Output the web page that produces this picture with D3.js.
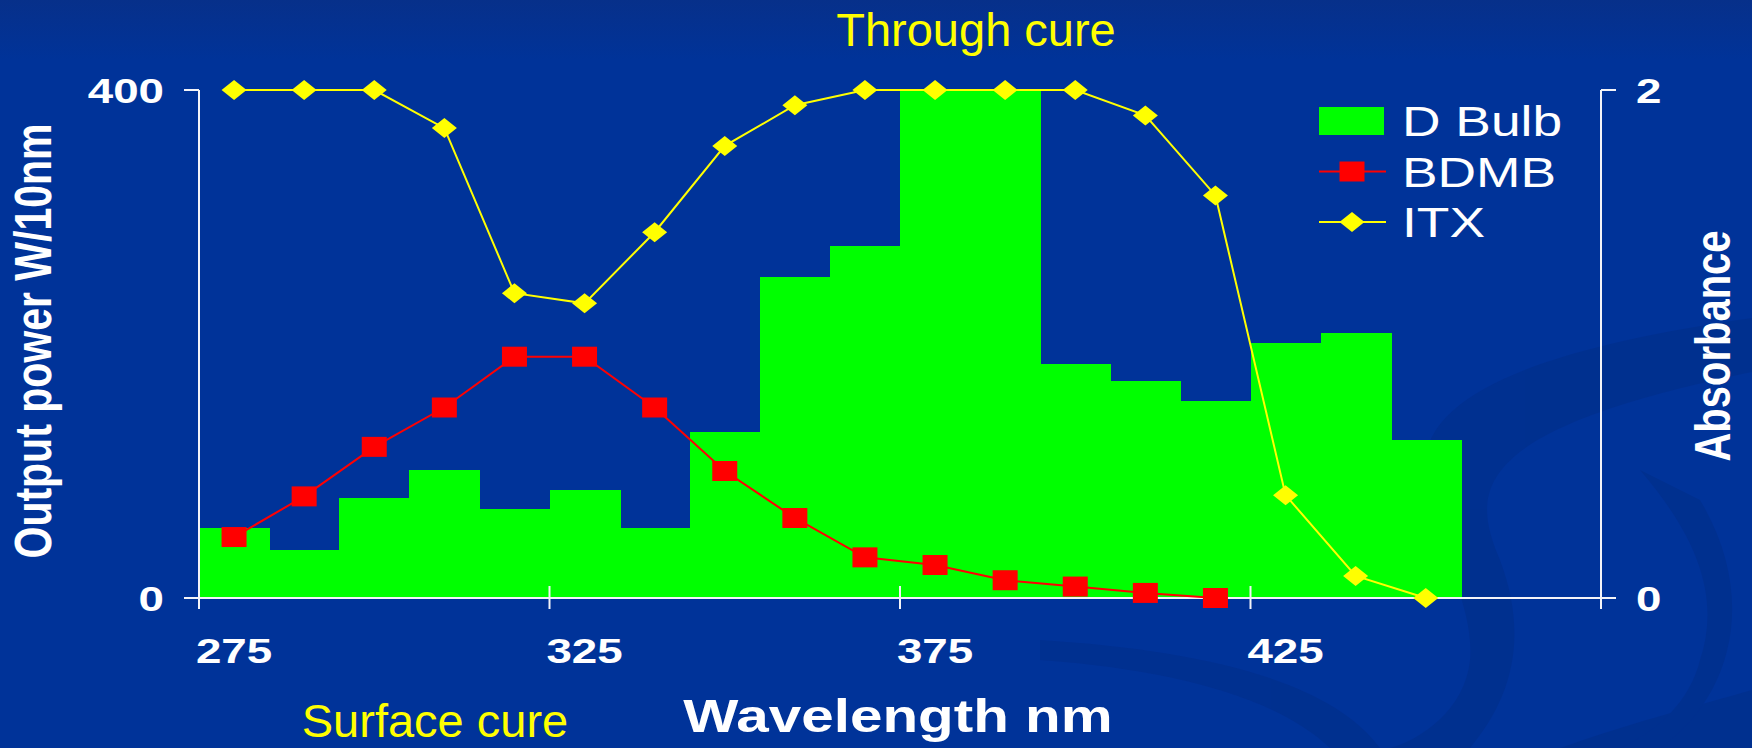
<!DOCTYPE html>
<html>
<head>
<meta charset="utf-8">
<script src="https://cdn.jsdelivr.net/npm/d3@7"></script>
<style>
  html, body { margin: 0; padding: 0; background: #003399; overflow: hidden; }
  svg { display: block; }
</style>
</head>
<body>
<script>
// Chart data.
const wavelengths = [275, 285, 295, 305, 315, 325, 335, 345, 355, 365,
  375, 385, 395, 405, 415, 425, 435, 445, 455, 465];
const dBulb = [55, 38, 78.5, 100.5, 70, 85, 55, 131, 252.5, 277,
  400, 400, 184, 170.5, 155.5, 201, 209, 124.5];
const bdmb = [0.24, 0.4, 0.595, 0.75, 0.95, 0.95, 0.75, 0.5, 0.315, 0.16,
  0.13, 0.07, 0.045, 0.02, 0];
const itx = [2, 2, 2, 1.85, 1.2, 1.16, 1.44, 1.78, 1.94, 2,
  2, 2, 2, 1.9, 1.585, 0.405, 0.087, 0];
const xTickLabels = [275, 325, 375, 425];
const leftTicks = [0, 400];
const rightTicks = [0, 2];
const legendItems = ["D Bulb", "BDMB", "ITX"];

// Global attributes.
const width = 1752;
const height = 748;
const stretch = 1.27; // the chart object on the slide is stretched sideways
const colors = { bg: "#003399", bar: "#00ff00", bdmb: "#ff0000", itx: "#ffff00", axis: "#f4f4f8", note: "#ffff00" };
const bold = "'Liberation Sans', Arial, sans-serif";

const svg = d3.select("body").append("svg").attr("width", width).attr("height", height);

// Background with the slide's swoosh.
const defs = svg.append("defs");
const grad = defs.append("linearGradient").attr("id", "topfade").attr("x1", 0).attr("y1", 0).attr("x2", 0).attr("y2", 1);
grad.append("stop").attr("offset", 0).attr("stop-color", "#07308a");
grad.append("stop").attr("offset", 1).attr("stop-color", colors.bg);
svg.append("rect").attr("width", width).attr("height", height).attr("fill", colors.bg);
svg.append("rect").attr("width", width).attr("height", 60).attr("fill", "url(#topfade)");

const swoosh = svg.append("g").attr("fill", "#002d85").attr("opacity", 0.45);
swoosh.append("path").attr("d", "M1752,318 C1560,345 1420,390 1425,470 C1430,540 1475,600 1470,660 C1465,710 1420,740 1390,748 L1470,748 C1510,700 1530,640 1500,560 C1470,490 1470,430 1752,372 Z");
swoosh.append("path").attr("d", "M1040,640 C1200,650 1330,680 1380,748 L1330,748 C1280,700 1180,670 1040,660 Z");
swoosh.append("path").attr("d", "M1560,748 C1640,720 1700,705 1752,690 L1752,748 Z");
swoosh.append("path").attr("d", "M1640,470 C1700,540 1720,600 1700,660 C1690,700 1660,730 1620,748 L1660,748 C1730,700 1760,600 1700,500 Z");

// Scales.
const x = d3.scaleBand().domain(wavelengths).range([199, 1601]).padding(0);
const yLeft = d3.scaleLinear().domain([0, 400]).range([598, 90]);
const yRight = d3.scaleLinear().domain([0, 2]).range([598, 90]);
const cx = (i) => x(wavelengths[i]) + x.bandwidth() / 2;

// D Bulb bars.
svg.append("g")
  .attr("shape-rendering", "crispEdges")
  .selectAll("rect")
  .data(dBulb)
  .join("rect")
  .attr("x", (d, i) => x(wavelengths[i]))
  .attr("y", (d) => yLeft(Math.min(d, 400)))
  .attr("width", x.bandwidth() + 1)
  .attr("height", (d) => yLeft(0) - yLeft(Math.min(d, 400)))
  .attr("fill", colors.bar);

// Axes.
const gAxis = svg.append("g").attr("stroke", colors.axis).attr("stroke-width", 2);
gAxis.append("line").attr("x1", 199).attr("x2", 199).attr("y1", yLeft(400)).attr("y2", yLeft(0));
gAxis.append("line").attr("x1", 1601).attr("x2", 1601).attr("y1", yRight(2)).attr("y2", yRight(0));
gAxis.append("line").attr("x1", 199).attr("x2", 1601).attr("y1", yLeft(0)).attr("y2", yLeft(0));
gAxis.selectAll(".lt").data(leftTicks).join("line")
  .attr("x1", 184).attr("x2", 199).attr("y1", (d) => yLeft(d)).attr("y2", (d) => yLeft(d));
gAxis.selectAll(".rt").data(rightTicks).join("line")
  .attr("x1", 1601).attr("x2", 1616).attr("y1", (d) => yRight(d)).attr("y2", (d) => yRight(d));
const xTickPos = d3.range(0, wavelengths.length + 1, 5).map((k) =>
  k < wavelengths.length ? x(wavelengths[k]) : x.range()[1]);
gAxis.selectAll(".xt").data(xTickPos).join("line")
  .attr("x1", (d) => d).attr("x2", (d) => d)
  .attr("y1", (d, i) => (i === 0 ? yLeft(0) : yLeft(0) - 12))
  .attr("y2", yLeft(0) + 11);

// Tick labels.
const gLabels = svg.append("g")
  .attr("fill", "#ffffff")
  .attr("font-family", bold)
  .attr("font-weight", "bold")
  .attr("font-size", 36);
gLabels.selectAll(".xl").data(xTickLabels).join("text")
  .attr("text-anchor", "middle")
  .attr("transform", (d) => `translate(${cx(wavelengths.indexOf(d))},663) scale(${stretch},1)`)
  .text((d) => d);
gLabels.selectAll(".yl").data(leftTicks).join("text")
  .attr("text-anchor", "end")
  .attr("transform", (d) => `translate(164,${yLeft(d) + 13}) scale(${stretch},1)`)
  .text((d) => d);
gLabels.selectAll(".yr").data(rightTicks).join("text")
  .attr("text-anchor", "start")
  .attr("transform", (d) => `translate(1636,${yRight(d) + 13}) scale(${stretch},1)`)
  .text((d) => d);

// Axis titles.
svg.append("text")
  .attr("fill", "#ffffff").attr("font-family", bold).attr("font-weight", "bold").attr("font-size", 46)
  .attr("text-anchor", "middle")
  .attr("transform", `translate(898,732) scale(${stretch},1)`)
  .text("Wavelength nm");
svg.append("text")
  .attr("fill", "#ffffff").attr("font-family", bold).attr("font-weight", "bold").attr("font-size", 41)
  .attr("text-anchor", "middle")
  .attr("transform", `translate(51,341) scale(${stretch},1) rotate(-90)`)
  .text("Output power W/10nm");
svg.append("text")
  .attr("fill", "#ffffff").attr("font-family", bold).attr("font-weight", "bold").attr("font-size", 40)
  .attr("text-anchor", "middle")
  .attr("transform", `translate(1730,346) scale(${stretch},1) rotate(-90)`)
  .text("Absorbance");

// Marker shapes, stretched like the rest of the chart.
const square = "M-12.5,-10 H12.5 V10 H-12.5 Z";
const diamond = "M0,-10 L12.5,0 L0,10 L-12.5,0 Z";

// BDMB line.
const line = (yScale) => d3.line().x((d, i) => cx(i)).y((d) => yScale(d));
svg.append("path")
  .datum(bdmb)
  .attr("fill", "none")
  .attr("stroke", colors.bdmb)
  .attr("stroke-width", 2)
  .attr("d", line(yRight));
svg.append("g")
  .selectAll("path")
  .data(bdmb)
  .join("path")
  .attr("d", square)
  .attr("fill", colors.bdmb)
  .attr("transform", (d, i) => `translate(${cx(i)},${yRight(d)})`);

// ITX line.
svg.append("path")
  .datum(itx)
  .attr("fill", "none")
  .attr("stroke", colors.itx)
  .attr("stroke-width", 2)
  .attr("d", line(yRight));
svg.append("g")
  .selectAll("path")
  .data(itx)
  .join("path")
  .attr("d", diamond)
  .attr("fill", colors.itx)
  .attr("transform", (d, i) => `translate(${cx(i)},${yRight(d)})`);

// Legend.
const legend = svg.append("g").attr("transform", "translate(1319,121)");
legendItems.forEach((name, i) => {
  const row = legend.append("g").attr("transform", `translate(0,${i * 50.5})`);
  if (i === 0) {
    row.append("rect").attr("x", 0).attr("y", -14).attr("width", 65).attr("height", 28).attr("fill", colors.bar);
  } else {
    const c = i === 1 ? colors.bdmb : colors.itx;
    row.append("line").attr("x1", 0).attr("x2", 67).attr("y1", 0).attr("y2", 0).attr("stroke", c).attr("stroke-width", 2);
    row.append("path").attr("d", i === 1 ? square : diamond).attr("fill", c).attr("transform", "translate(33,0)");
  }
  row.append("text")
    .attr("fill", "#ffffff")
    .attr("font-family", bold)
    .attr("font-size", 42)
    .attr("transform", `translate(83,15) scale(${stretch},1)`)
    .text(name);
});

// Slide notes.
svg.append("text")
  .attr("fill", colors.note).attr("font-family", bold).attr("font-size", 47)
  .attr("text-anchor", "middle").attr("x", 976).attr("y", 46)
  .text("Through cure");
svg.append("text")
  .attr("fill", colors.note).attr("font-family", bold).attr("font-size", 47)
  .attr("text-anchor", "middle").attr("x", 435).attr("y", 737)
  .text("Surface cure");
</script>
</body>
</html>
